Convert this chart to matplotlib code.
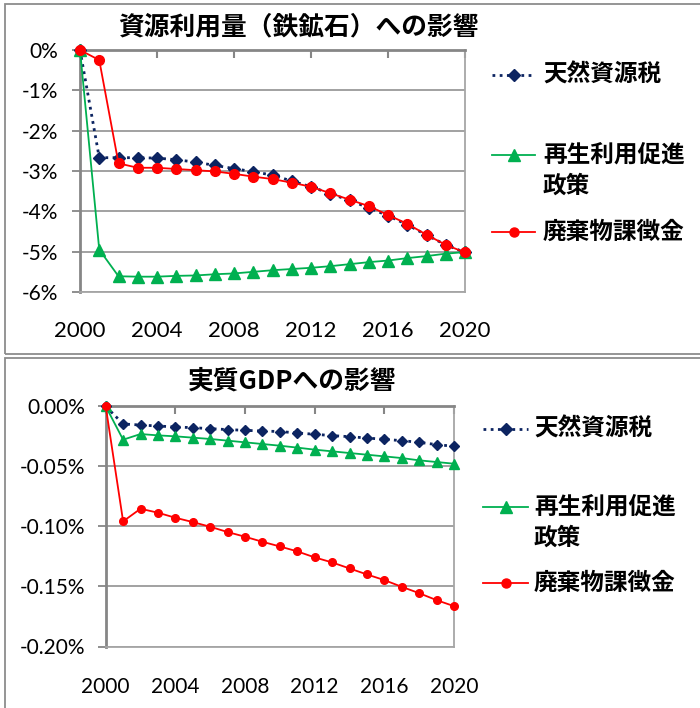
import matplotlib
matplotlib.use("Agg")
import matplotlib.pyplot as plt
from matplotlib.lines import Line2D
from matplotlib.patches import Rectangle

# ---------------- data ----------------
years = list(range(2000, 2021))
series_labels = ["天然資源税", "再生利用促進\n政策", "廃棄物課徴金"]

# Resource use (iron ore), % change
res_tax = [0, -2.67, -2.67, -2.67, -2.68, -2.72, -2.78, -2.86, -2.94, -3.02, -3.10,
           -3.25, -3.39, -3.56, -3.73, -3.91, -4.11, -4.33, -4.59, -4.83, -5.02]
res_recycle = [0, -4.95, -5.61, -5.62, -5.62, -5.60, -5.59, -5.56, -5.54, -5.50, -5.46,
               -5.43, -5.40, -5.36, -5.31, -5.26, -5.22, -5.16, -5.11, -5.05, -5.01]
res_waste = [0, -0.25, -2.81, -2.92, -2.92, -2.95, -2.98, -3.01, -3.07, -3.14, -3.20,
             -3.29, -3.39, -3.55, -3.71, -3.87, -4.09, -4.31, -4.58, -4.83, -5.02]

# Real GDP, % change
gdp_tax = [0, -0.0147, -0.0156, -0.0164, -0.0172, -0.0178, -0.0186, -0.0194, -0.0200, -0.0206, -0.0210,
           -0.0222, -0.0233, -0.0244, -0.0253, -0.0264, -0.0275, -0.0286, -0.0300, -0.0319, -0.0333]
gdp_recycle = [0, -0.0278, -0.0231, -0.0242, -0.0250, -0.0261, -0.0272, -0.0286, -0.0300, -0.0314, -0.0328,
               -0.0344, -0.0361, -0.0375, -0.0389, -0.0403, -0.0417, -0.0431, -0.0450, -0.0464, -0.0478]
gdp_waste = [0, -0.0958, -0.0853, -0.0886, -0.0928, -0.0964, -0.1003, -0.1047, -0.1086, -0.1128, -0.1167,
             -0.1208, -0.1258, -0.1300, -0.1350, -0.1400, -0.1447, -0.1503, -0.1556, -0.1614, -0.1664]

x_ticks = [2000, 2004, 2008, 2012, 2016, 2020]
x_tick_labels = ["2000", "2004", "2008", "2012", "2016", "2020"]
top_y_ticks = [0, -1, -2, -3, -4, -5, -6]
top_y_labels = ["0%", "-1%", "-2%", "-3%", "-4%", "-5%", "-6%"]
bot_y_ticks = [0, -0.05, -0.10, -0.15, -0.20]
bot_y_labels = ["0.00%", "-0.05%", "-0.10%", "-0.15%", "-0.20%"]

title_top = "資源利用量（鉄鉱石）への影響"
title_bot = "実質GDPへの影響"

# ---------------- style ----------------
NAVY = "#0C2461"
GREEN = "#00B050"
RED = "#FF0000"
colors = [NAVY, GREEN, RED]
markers = ["D", "^", "o"]
styles = [(0, (1, 1.6)), "-", "-"]
widths = [2.0, 1.3, 1.3]

JP = ["Noto Sans CJK JP", "DejaVu Sans"]
NUM = ["Lato", "DejaVu Sans"]
plt.rcParams["font.family"] = JP

W, H = 700, 708
fig = plt.figure(figsize=(W / 100, H / 100), dpi=100)


def fx(px):
    return px / W


def fy(py):
    return 1 - py / H


# panel borders
for (x0, y0, x1, y1) in [(5, 4, 710, 354), (5, 358, 710, 720)]:
    fig.patches.append(Rectangle((fx(x0), fy(y1)), fx(x1) - fx(x0), fy(y0) - fy(y1),
                                 transform=fig.transFigure, fill=False,
                                 edgecolor="#8C8C8C", lw=1.3, zorder=0))


def make_axes(box, data, yticks, ylabels, msizes, xfs, yfs, xpad, ypad):
    left, top, right, bottom = box
    ax = fig.add_axes([fx(left), fy(bottom), fx(right) - fx(left), fy(top) - fy(bottom)])
    ax.set_xlim(2000, 2020)
    ax.set_ylim(yticks[-1], yticks[0])
    ax.set_yticks(yticks)
    ax.set_yticklabels(ylabels, fontfamily=NUM, fontsize=yfs)
    ax.set_xticks(x_ticks)
    ax.set_xticklabels(x_tick_labels, fontfamily=NUM, fontsize=xfs)
    ax.yaxis.grid(True, color="#9A9A9A", lw=1.3)
    ax.set_axisbelow(True)
    for s in ["right", "bottom"]:
        ax.spines[s].set_color("#A6A6A6")
        ax.spines[s].set_linewidth(1.3)
    for s in ["left", "top"]:
        ax.spines[s].set_color("#868686")
        ax.spines[s].set_linewidth(2.0)
    ax.tick_params(axis="x", top=True, bottom=False, labelbottom=True, labeltop=False,
                   direction="in", length=6, width=1.5, color="#868686", pad=xpad)
    ax.tick_params(axis="y", direction="out", length=6, width=1.3, color="#868686", pad=ypad)
    for vals, c, m, ls, lw, ms in zip(data, colors, markers, styles, widths, msizes):
        ax.plot(years, vals, color=c, marker=m, linestyle=ls, lw=lw, markersize=ms,
                markerfacecolor=c, markeredgecolor=c, clip_on=False, zorder=3)
    return ax


ax1 = make_axes((80, 50, 465, 292), [res_tax, res_recycle, res_waste],
                top_y_ticks, top_y_labels, [6.5, 8, 7], 16, 15, 21, 10)
ax2 = make_axes((105.7, 406.3, 454, 646.5), [gdp_tax, gdp_recycle, gdp_waste],
                bot_y_ticks, bot_y_labels, [5.5, 7, 5.5], 15, 15, 22, 9)

fig.text(fx(298), fy(27), title_top, fontsize=18.5, fontweight="bold",
         ha="center", va="center", family=JP)
fig.text(fx(292), fy(381), title_bot, fontsize=18.5, fontweight="bold",
         ha="center", va="center", family=JP)


def legend(x0, x1, xt, ys, msizes):
    for lab, y, c, m, ls, lw, ms in zip(series_labels, ys, colors, markers, styles, widths, msizes):
        fig.lines.append(Line2D([fx(x0), fx(x1)], [fy(y), fy(y)], transform=fig.transFigure,
                                color=c, linestyle=ls, lw=lw))
        fig.lines.append(Line2D([fx((x0 + x1) / 2)], [fy(y)], transform=fig.transFigure,
                                color=c, marker=m, markersize=ms, linestyle="none"))
        for i, line in enumerate(lab.split("\n")):
            fig.text(fx(xt), fy(y + i * 30.5), line, fontsize=17, fontweight="bold",
                     ha="left", va="center", family=JP)


legend(492, 535, 543, [75, 155, 232], [6.5, 8, 6.5])
legend(483, 528, 534, [429, 507, 583], [6.5, 8, 6.5])

fig.savefig("out.png", dpi=100)
